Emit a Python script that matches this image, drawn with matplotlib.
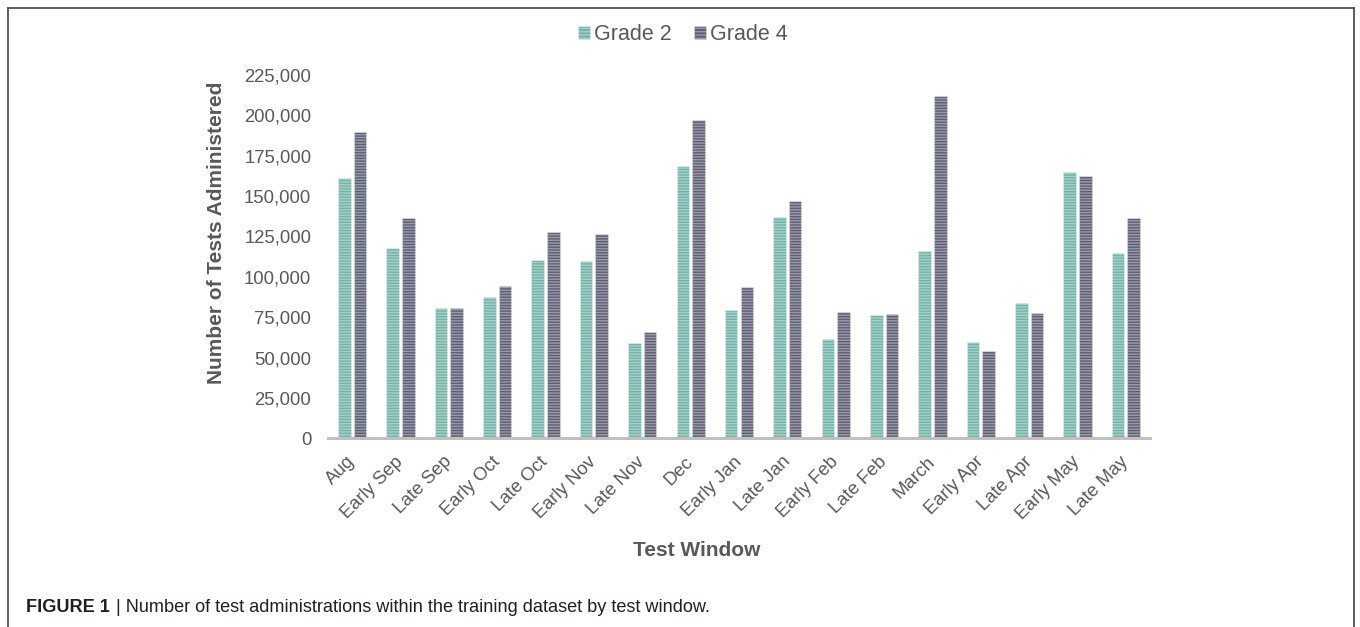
import matplotlib
matplotlib.use("Agg")
import matplotlib.pyplot as plt
import numpy as np
from matplotlib.patches import Patch
from matplotlib.lines import Line2D
from matplotlib.ticker import FuncFormatter, MultipleLocator

categories = ["Aug", "Early Sep", "Late Sep", "Early Oct", "Late Oct", "Early Nov",
              "Late Nov", "Dec", "Early Jan", "Late Jan", "Early Feb", "Late Feb",
              "March", "Early Apr", "Late Apr", "Early May", "Late May"]
grade2 = [161500, 117800, 81000, 87300, 110700, 110100, 59200, 168900, 79200,
          136800, 61300, 76200, 116300, 59600, 83700, 165200, 114900]
grade4 = [189900, 136500, 81000, 94500, 127500, 126500, 66100, 197200, 93900,
          146900, 78500, 76700, 212300, 54000, 77500, 162700, 136500]
series_names = ["Grade 2", "Grade 4"]

W, H = 1360, 627
plt.rcParams['font.family'] = ['Liberation Sans', 'DejaVu Sans']
plt.rcParams['hatch.linewidth'] = 1.0

fig = plt.figure(figsize=(W / 100, H / 100), dpi=100)
ax = fig.add_axes([328 / W, 1 - 438.3 / H, (1150 - 328) / W, (438.3 - 75) / H])

x = np.arange(len(categories))
c2 = '#72b3a8'
c4 = '#5c5f74'
hatch_col = (1, 1, 1, 0.38)
bw = 0.26
off = 0.162
ax.bar(x - off, grade2, bw, color=c2, edgecolor=hatch_col, linewidth=0.6, hatch='------')
ax.bar(x + off, grade4, bw, color=c4, edgecolor=hatch_col, linewidth=0.6, hatch='------')

ax.set_xlim(-0.5, len(categories) - 0.5)
ax.set_ylim(0, 225000)
ax.yaxis.set_major_locator(MultipleLocator(25000))
ax.yaxis.set_major_formatter(FuncFormatter(lambda v, p: f"{int(v):,}"))
for s in ['top', 'right', 'left']:
    ax.spines[s].set_visible(False)
ax.spines['bottom'].set_color('#c0c0c0')
ax.spines['bottom'].set_linewidth(2.2)
ax.tick_params(axis='y', length=0, pad=12, labelsize=13.3, labelcolor='#595959')
ax.tick_params(axis='x', length=0, pad=15, labelsize=13.3, labelcolor='#595959')
ax.set_xticks(x)
ax.set_xticklabels(categories, rotation=45, ha='right', va='center', rotation_mode='anchor')

fig.text(216.7 / W, 1 - 233 / H, "Number of Tests Administered", rotation=90,
         ha='center', va='center', fontsize=15, fontweight='bold', color='#595959')
fig.text(697 / W, 1 - 550 / H, "Test Window", ha='center', va='center',
         fontsize=15, fontweight='bold', color='#595959')

handles = [Patch(facecolor=c2, edgecolor=hatch_col, linewidth=0.6, hatch='-----'),
           Patch(facecolor=c4, edgecolor=hatch_col, linewidth=0.6, hatch='-----')]
fig.legend(handles, series_names, loc='center', bbox_to_anchor=(683 / W, 1 - 35 / H),
           ncol=2, frameon=False, fontsize=15.5, handlelength=0.55, handleheight=0.55,
           handletextpad=0.2, columnspacing=1.05, labelcolor='#595959')

# figure border
bc = '#505050'
fig.add_artist(Line2D([7.7 / W, 1354 / W], [1 - 8.3 / H, 1 - 8.3 / H], color=bc, lw=1.3))
fig.add_artist(Line2D([7.7 / W, 7.7 / W], [1 - 8.3 / H, 0], color=bc, lw=1.3))
fig.add_artist(Line2D([1354 / W, 1354 / W], [1 - 8.3 / H, 0], color=bc, lw=1.3))

# caption
cap_font = ['Liberation Sans Narrow', 'Liberation Sans', 'DejaVu Sans']
t1 = fig.text(26 / W, 1 - 607 / H, "FIGURE 1", ha='left', va='center', fontsize=13.1,
              fontweight='bold', color='#231f20', family=cap_font)
fig.canvas.draw()
bb = t1.get_window_extent(fig.canvas.get_renderer())
fig.text((bb.x1 + 1) / W, 1 - 607 / H,
         " | Number of test administrations within the training dataset by test window.",
         ha='left', va='center', fontsize=13.1, color='#231f20', family=cap_font)

fig.savefig("out.png", dpi=100)
